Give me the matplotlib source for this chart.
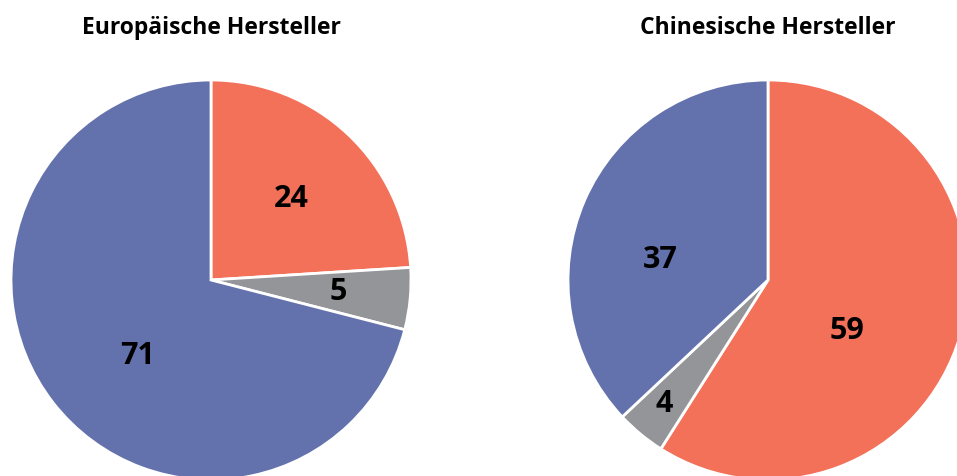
import matplotlib.pyplot as plt
import numpy as np

# shares in percent, clockwise from 12 o'clock
titles = ["Europäische Hersteller", "Chinesische Hersteller"]
eu_values = [24, 5, 71]
cn_values = [59, 4, 37]
colors = ["#F37159", "#939598", "#6372AD"]

# label placement (radius fraction, angle in degrees) tuned to the picture
eu_label_pos = [(0.57, 45.5), (0.64, -5.5), (0.53, -134.0)]
cn_label_pos = [(0.47, -32.5), (0.81, -130.0), (0.55, 169.5)]

plt.rcParams['font.family'] = ['Open Sans', 'DejaVu Sans']

fig = plt.figure(figsize=(9.57, 4.76), dpi=100)

W, H = 957, 476
R = 200
centers = [(211, 280), (768, 280)]

for (cx, cy), title, values, label_pos in zip(centers, titles, [eu_values, cn_values],
                                              [eu_label_pos, cn_label_pos]):
    ax = fig.add_axes([(cx - R) / W, (H - cy - R) / H, 2 * R / W, 2 * R / H])
    ax.pie(values, colors=colors, startangle=90, counterclock=False, radius=1,
           wedgeprops=dict(edgecolor='white', linewidth=2))
    for v, (d, a) in zip(values, label_pos):
        ax.text(d * np.cos(np.radians(a)), d * np.sin(np.radians(a)), str(v),
                ha='center', va='center', fontsize=22, fontweight='bold', color='black')
    ax.set_xlim(-1, 1)
    ax.set_ylim(-1, 1)
    ax.set_aspect('equal')
    ax.axis('off')
    fig.text(cx / W, 1 - 28 / H, title, ha='center', va='center',
             fontsize=16.5, fontweight='bold')

fig.savefig('out.png', dpi=100)
